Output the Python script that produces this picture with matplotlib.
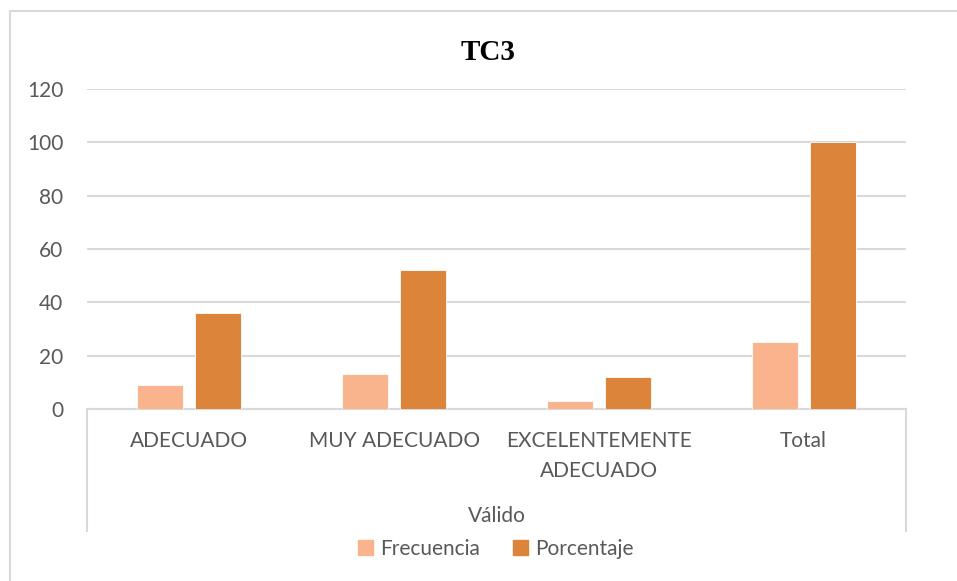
import numpy as np
import matplotlib.pyplot as plt
from matplotlib.lines import Line2D
from matplotlib.patches import Patch

# data
categorias = ["ADECUADO", "MUY ADECUADO", "EXCELENTEMENTE\nADECUADO", "Total"]
frecuencia = [9, 13, 3, 25]
porcentaje = [36, 52, 12, 100]
grupo = "Válido"
titulo = "TC3"

col_frec = "#F9B48E"
col_porc = "#DB843A"
gris_txt = "#595959"
gris_lin = "#D9D9D9"

plt.rcParams['font.family'] = ['Lato', 'DejaVu Sans']
fs = 15

W, H = 957, 581
fig = plt.figure(figsize=(W / 100, H / 100), dpi=100)

# chart frame (only left and top edges show in the crop)
fig.add_artist(Line2D([10 / W, 10 / W], [0, 1 - 11 / H], transform=fig.transFigure, color=gris_lin, lw=1.5))
fig.add_artist(Line2D([10 / W, 1], [1 - 11 / H, 1 - 11 / H], transform=fig.transFigure, color=gris_lin, lw=1.5))

left, right = 87 / W, 906 / W
bottom, top = 1 - 409 / H, 1 - 89 / H
ax = fig.add_axes([left, bottom, right - left, top - bottom])

x = np.arange(len(categorias))
off, bw = 0.142, 0.225
ax.bar(x - off, frecuencia, bw, color=col_frec, edgecolor="white", linewidth=0.6, zorder=3)
ax.bar(x + off, porcentaje, bw, color=col_porc, edgecolor="white", linewidth=0.6, zorder=3)

ax.set_xlim(-0.5, len(categorias) - 0.5)
ax.set_ylim(0, 120)
ax.set_yticks(np.arange(0, 121, 20))
ax.yaxis.grid(True, color=gris_lin, lw=1.5, zorder=0)
for s in ["top", "right", "left"]:
    ax.spines[s].set_visible(False)
ax.spines["bottom"].set_color(gris_lin)
ax.spines["bottom"].set_linewidth(1.5)
ax.tick_params(axis="y", length=0, pad=17, labelsize=fs, labelcolor=gris_txt)
ax.tick_params(axis="x", length=0, pad=16, labelsize=fs, labelcolor=gris_txt)
ax.set_xticks(x)
ax.set_xticklabels(categorias)
for lab in ax.get_xticklabels():
    lab.set_linespacing(1.6)

# group separators below the axis
tr = ax.get_xaxis_transform()
hgt = 320.0
for xs in [-0.5, len(categorias) - 0.5]:
    ax.plot([xs, xs], [0, -(531 - 409) / hgt], transform=tr, color=gris_lin, lw=1.5, clip_on=False)
ax.text((len(categorias) - 1) / 2, -(516 - 409) / hgt, grupo, transform=tr,
        ha="center", va="center", fontsize=fs, color=gris_txt)

fig.text(488 / W, 1 - 52 / H, titulo, ha="center", va="center", fontsize=21,
         fontweight="bold", family="Liberation Serif", color="black")

handles = [Patch(color=col_frec, label="Frecuencia"), Patch(color=col_porc, label="Porcentaje")]
leg = fig.legend(handles=handles, loc="center", bbox_to_anchor=(496 / W, 1 - 549 / H), ncol=2,
                 frameon=False, fontsize=fs, handlelength=0.7, handleheight=0.7,
                 handletextpad=0.35, columnspacing=1.6)
for t in leg.get_texts():
    t.set_color(gris_txt)

fig.savefig("out.png", dpi=100)
